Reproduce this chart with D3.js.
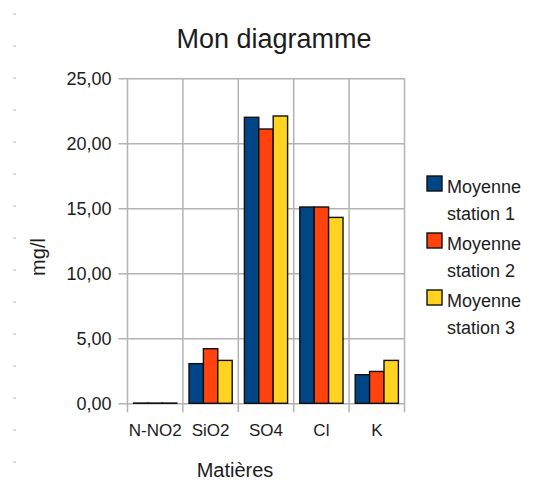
<!DOCTYPE html>
<html>
<head>
<meta charset="utf-8">
<script src="https://cdn.jsdelivr.net/npm/d3@7"></script>
<style>
  body { margin: 0; background: #fff; }
  text { font-family: "Liberation Sans", Arial, sans-serif; fill: #1c1c1c; }
</style>
</head>
<body>
<script>
// data
let categories = ["N-NO2", "SiO2", "SO4", "Cl", "K"];
let seriesNames = ["Moyenne station 1", "Moyenne station 2", "Moyenne station 3"];
let station1 = [0.02, 3.05, 22.0, 15.1, 2.2];
let station2 = [0.02, 4.2, 21.1, 15.1, 2.45];
let station3 = [0.02, 3.3, 22.1, 14.3, 3.3];
let yTicks = [0, 5, 10, 15, 20, 25];

let colors = ["#004586", "#ff420e", "#ffd320"];

let width = 534, height = 484;
let plot = {left: 127.5, right: 404.5, top: 78.3, bottom: 403.3};

let svg = d3.select("body")
    .append("svg")
    .attr("width", width)
    .attr("height", height);

// little ruler marks on the left edge
let rulerY = d3.range(15).map(i => 14 + i * 32);
svg.selectAll(".ruler")
    .data(rulerY)
    .enter()
    .append("line")
        .attr("x1", 13).attr("x2", 16)
        .attr("y1", d => d).attr("y2", d => d)
        .attr("stroke", "#bbb")
        .attr("stroke-width", 1);

let xScale = d3.scaleBand()
    .domain(categories)
    .range([plot.left, plot.right])
    .paddingInner(0.22)
    .paddingOuter(0.11);

let subScale = d3.scaleBand()
    .domain(seriesNames)
    .range([0, xScale.bandwidth()]);

let yScale = d3.scaleLinear()
    .domain([0, 25])
    .range([plot.bottom, plot.top]);

let fmt = d => d3.format(".2f")(d).replace(".", ",");

// horizontal grid + y labels
let yAxis = svg.append("g")
    .attr("transform", `translate(${plot.left},0)`)
    .call(d3.axisLeft(yScale).tickValues(yTicks).tickFormat(fmt).tickSize(9).tickPadding(7));
yAxis.select(".domain").remove();
yAxis.selectAll("line")
    .attr("x1", plot.right - plot.left)
    .attr("stroke", "#b3b3b3")
    .attr("stroke-width", 1.5);
yAxis.selectAll("text")
    .style("font-size", "18px")
    .style("font-family", "'Liberation Sans', Arial, sans-serif")
    .attr("fill", "#1c1c1c");

// vertical grid at category boundaries
let gap = (xScale.step() - xScale.bandwidth()) / 2;
let bounds = categories.map(c => xScale(c) - gap).concat([plot.right]);
svg.selectAll(".vgrid")
    .data(bounds)
    .enter()
    .append("line")
        .attr("x1", d => d).attr("x2", d => d)
        .attr("y1", plot.top).attr("y2", plot.bottom + 9)
        .attr("stroke", "#b3b3b3")
        .attr("stroke-width", 1.5);

// x labels
let xAxis = svg.append("g")
    .attr("transform", `translate(0,${plot.bottom})`)
    .call(d3.axisBottom(xScale).tickSize(0).tickPadding(21));
xAxis.select(".domain").remove();
xAxis.selectAll("text")
    .style("font-size", "17px")
    .style("font-family", "'Liberation Sans', Arial, sans-serif")
    .attr("fill", "#1c1c1c");

// bars
let allSeries = [station1, station2, station3];
let rows = categories.map((c, i) => ({
    cat: c,
    vals: seriesNames.map((s, j) => ({series: s, idx: j, value: allSeries[j][i]}))
}));

svg.selectAll(".group")
    .data(rows)
    .enter()
    .append("g")
        .attr("transform", d => `translate(${xScale(d.cat)},0)`)
    .selectAll("rect")
    .data(d => d.vals)
    .enter()
    .append("rect")
        .attr("x", d => subScale(d.series))
        .attr("y", d => yScale(d.value))
        .attr("width", subScale.bandwidth())
        .attr("height", d => yScale(0) - yScale(d.value))
        .attr("fill", d => colors[d.idx])
        .attr("stroke", "#111")
        .attr("stroke-width", 1.4);

// titles
svg.append("text")
    .attr("x", 274)
    .attr("y", 48)
    .attr("text-anchor", "middle")
    .style("font-size", "27px")
    .text("Mon diagramme");

svg.append("text")
    .attr("x", 235)
    .attr("y", 477)
    .attr("text-anchor", "middle")
    .style("font-size", "20px")
    .text("Matières");

svg.append("text")
    .attr("transform", "translate(45,257) rotate(-90)")
    .attr("text-anchor", "middle")
    .style("font-size", "20px")
    .text("mg/l");

// legend
let legend = svg.selectAll(".legend")
    .data(seriesNames)
    .enter()
    .append("g")
        .attr("transform", (d, i) => `translate(427, ${176 + i * 57})`);

legend.append("rect")
    .attr("width", 15)
    .attr("height", 15)
    .attr("fill", (d, i) => colors[i])
    .attr("stroke", "#111")
    .attr("stroke-width", 1.4);

legend.append("text")
    .attr("x", 20)
    .attr("y", 17)
    .style("font-size", "18px")
    .text("Moyenne");

legend.append("text")
    .attr("x", 20)
    .attr("y", 44)
    .style("font-size", "18px")
    .text((d, i) => "station " + (i + 1));
</script>
</body>
</html>
